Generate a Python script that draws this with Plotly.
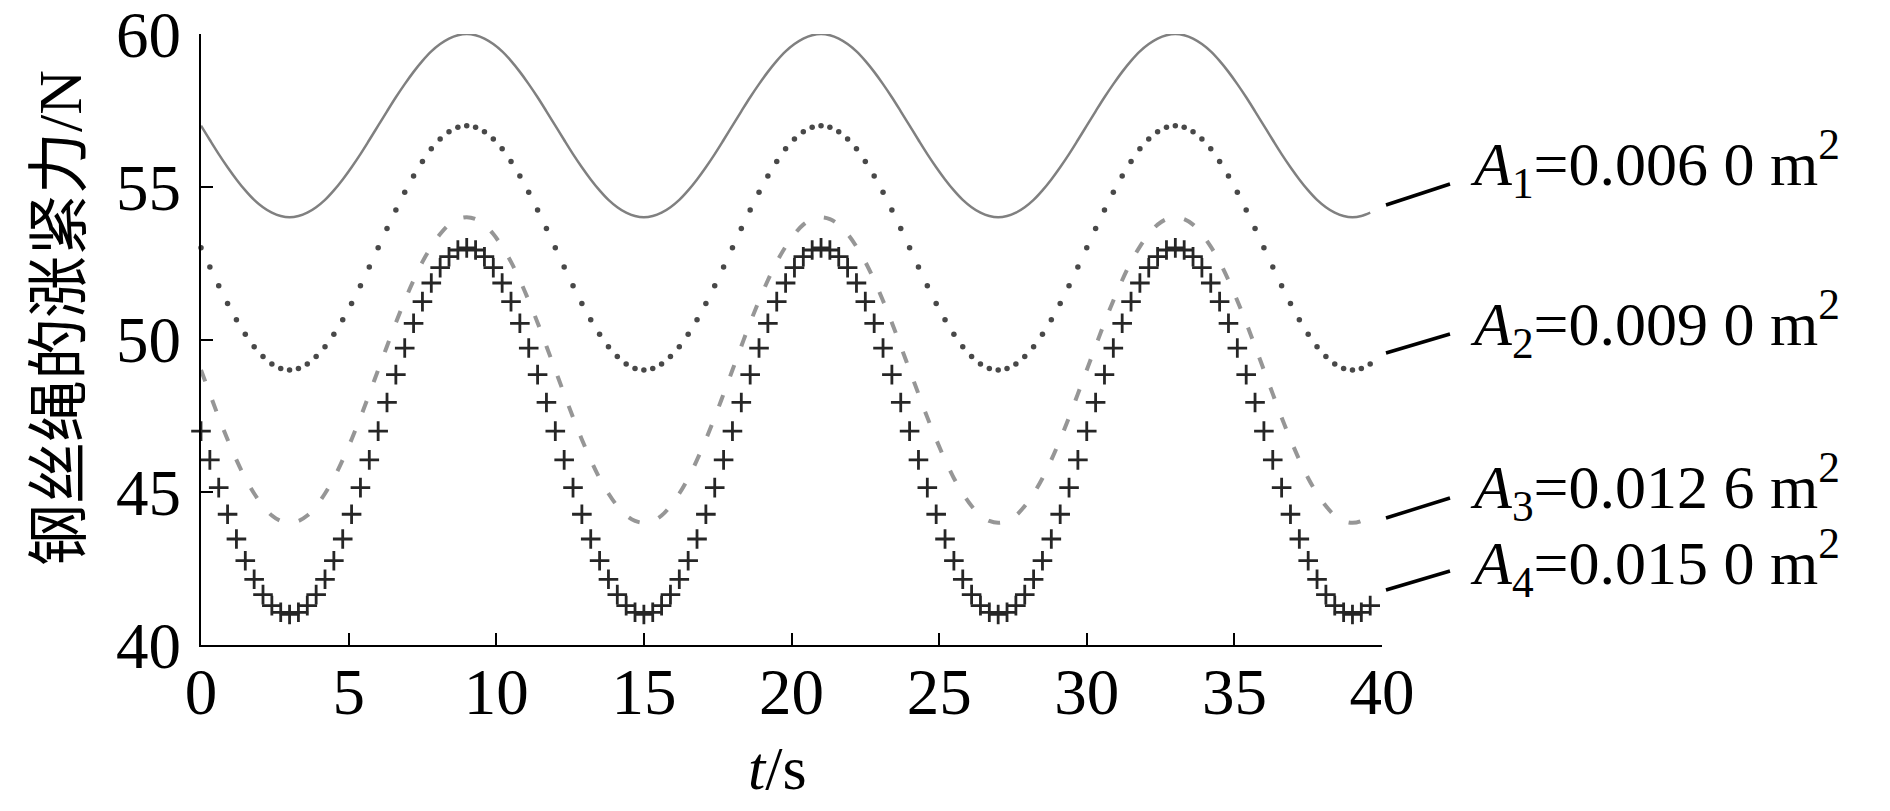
import plotly.graph_objects as go

# sample times (s)
t = [
    0.0, 0.3, 0.6, 0.9, 1.2, 1.5, 1.8, 2.1, 2.4, 2.7, 3.0, 3.3, 3.6, 3.9, 4.2, 4.5, 4.8, 5.1, 5.4, 5.7,
    6.0, 6.3, 6.6, 6.9, 7.2, 7.5, 7.8, 8.1, 8.4, 8.7, 9.0, 9.3, 9.6, 9.9, 10.2, 10.5, 10.8, 11.1, 11.4, 11.7,
    12.0, 12.3, 12.6, 12.9, 13.2, 13.5, 13.8, 14.1, 14.4, 14.7, 15.0, 15.3, 15.6, 15.9, 16.2, 16.5, 16.8, 17.1, 17.4, 17.7,
    18.0, 18.3, 18.6, 18.9, 19.2, 19.5, 19.8, 20.1, 20.4, 20.7, 21.0, 21.3, 21.6, 21.9, 22.2, 22.5, 22.8, 23.1, 23.4, 23.7,
    24.0, 24.3, 24.6, 24.9, 25.2, 25.5, 25.8, 26.1, 26.4, 26.7, 27.0, 27.3, 27.6, 27.9, 28.2, 28.5, 28.8, 29.1, 29.4, 29.7,
    30.0, 30.3, 30.6, 30.9, 31.2, 31.5, 31.8, 32.1, 32.4, 32.7, 33.0, 33.3, 33.6, 33.9, 34.2, 34.5, 34.8, 35.1, 35.4, 35.7,
    36.0, 36.3, 36.6, 36.9, 37.2, 37.5, 37.8, 38.1, 38.4, 38.7, 39.0, 39.3, 39.6,
]

# tension (N), A1 = 0.006 0 m2
f_a1 = [
    57.00, 56.53, 56.07, 55.64, 55.24, 54.88, 54.57, 54.33, 54.15, 54.04, 54.00, 54.04, 54.15, 54.33, 54.57, 54.88, 55.24, 55.64, 56.07, 56.53,
    57.00, 57.47, 57.93, 58.36, 58.76, 59.12, 59.43, 59.67, 59.85, 59.96, 60.00, 59.96, 59.85, 59.67, 59.43, 59.12, 58.76, 58.36, 57.93, 57.47,
    57.00, 56.53, 56.07, 55.64, 55.24, 54.88, 54.57, 54.33, 54.15, 54.04, 54.00, 54.04, 54.15, 54.33, 54.57, 54.88, 55.24, 55.64, 56.07, 56.53,
    57.00, 57.47, 57.93, 58.36, 58.76, 59.12, 59.43, 59.67, 59.85, 59.96, 60.00, 59.96, 59.85, 59.67, 59.43, 59.12, 58.76, 58.36, 57.93, 57.47,
    57.00, 56.53, 56.07, 55.64, 55.24, 54.88, 54.57, 54.33, 54.15, 54.04, 54.00, 54.04, 54.15, 54.33, 54.57, 54.88, 55.24, 55.64, 56.07, 56.53,
    57.00, 57.47, 57.93, 58.36, 58.76, 59.12, 59.43, 59.67, 59.85, 59.96, 60.00, 59.96, 59.85, 59.67, 59.43, 59.12, 58.76, 58.36, 57.93, 57.47,
    57.00, 56.53, 56.07, 55.64, 55.24, 54.88, 54.57, 54.33, 54.15, 54.04, 54.00, 54.04, 54.15,
]

# A2 = 0.009 0 m2
f_a2 = [
    53.00, 52.37, 51.76, 51.18, 50.65, 50.17, 49.76, 49.44, 49.20, 49.05, 49.00, 49.05, 49.20, 49.44, 49.76, 50.17, 50.65, 51.18, 51.76, 52.37,
    53.00, 53.63, 54.24, 54.82, 55.35, 55.83, 56.24, 56.56, 56.80, 56.95, 57.00, 56.95, 56.80, 56.56, 56.24, 55.83, 55.35, 54.82, 54.24, 53.63,
    53.00, 52.37, 51.76, 51.18, 50.65, 50.17, 49.76, 49.44, 49.20, 49.05, 49.00, 49.05, 49.20, 49.44, 49.76, 50.17, 50.65, 51.18, 51.76, 52.37,
    53.00, 53.63, 54.24, 54.82, 55.35, 55.83, 56.24, 56.56, 56.80, 56.95, 57.00, 56.95, 56.80, 56.56, 56.24, 55.83, 55.35, 54.82, 54.24, 53.63,
    53.00, 52.37, 51.76, 51.18, 50.65, 50.17, 49.76, 49.44, 49.20, 49.05, 49.00, 49.05, 49.20, 49.44, 49.76, 50.17, 50.65, 51.18, 51.76, 52.37,
    53.00, 53.63, 54.24, 54.82, 55.35, 55.83, 56.24, 56.56, 56.80, 56.95, 57.00, 56.95, 56.80, 56.56, 56.24, 55.83, 55.35, 54.82, 54.24, 53.63,
    53.00, 52.37, 51.76, 51.18, 50.65, 50.17, 49.76, 49.44, 49.20, 49.05, 49.00, 49.05, 49.20,
]

# A3 = 0.012 6 m2
f_a3 = [
    49.00, 48.22, 47.45, 46.73, 46.06, 45.46, 44.96, 44.55, 44.24, 44.06, 44.00, 44.06, 44.24, 44.55, 44.96, 45.46, 46.06, 46.73, 47.45, 48.22,
    49.00, 49.78, 50.55, 51.27, 51.94, 52.54, 53.04, 53.45, 53.76, 53.94, 54.00, 53.94, 53.76, 53.45, 53.04, 52.54, 51.94, 51.27, 50.55, 49.78,
    49.00, 48.22, 47.45, 46.73, 46.06, 45.46, 44.96, 44.55, 44.24, 44.06, 44.00, 44.06, 44.24, 44.55, 44.96, 45.46, 46.06, 46.73, 47.45, 48.22,
    49.00, 49.78, 50.55, 51.27, 51.94, 52.54, 53.04, 53.45, 53.76, 53.94, 54.00, 53.94, 53.76, 53.45, 53.04, 52.54, 51.94, 51.27, 50.55, 49.78,
    49.00, 48.22, 47.45, 46.73, 46.06, 45.46, 44.96, 44.55, 44.24, 44.06, 44.00, 44.06, 44.24, 44.55, 44.96, 45.46, 46.06, 46.73, 47.45, 48.22,
    49.00, 49.78, 50.55, 51.27, 51.94, 52.54, 53.04, 53.45, 53.76, 53.94, 54.00, 53.94, 53.76, 53.45, 53.04, 52.54, 51.94, 51.27, 50.55, 49.78,
    49.00, 48.22, 47.45, 46.73, 46.06, 45.46, 44.96, 44.55, 44.24, 44.06, 44.00, 44.06, 44.24,
]

# A4 = 0.015 0 m2
f_a4 = [
    47.00, 46.06, 45.15, 44.28, 43.47, 42.76, 42.15, 41.65, 41.29, 41.07, 41.00, 41.07, 41.29, 41.65, 42.15, 42.76, 43.47, 44.28, 45.15, 46.06,
    47.00, 47.94, 48.85, 49.72, 50.53, 51.24, 51.85, 52.35, 52.71, 52.93, 53.00, 52.93, 52.71, 52.35, 51.85, 51.24, 50.53, 49.72, 48.85, 47.94,
    47.00, 46.06, 45.15, 44.28, 43.47, 42.76, 42.15, 41.65, 41.29, 41.07, 41.00, 41.07, 41.29, 41.65, 42.15, 42.76, 43.47, 44.28, 45.15, 46.06,
    47.00, 47.94, 48.85, 49.72, 50.53, 51.24, 51.85, 52.35, 52.71, 52.93, 53.00, 52.93, 52.71, 52.35, 51.85, 51.24, 50.53, 49.72, 48.85, 47.94,
    47.00, 46.06, 45.15, 44.28, 43.47, 42.76, 42.15, 41.65, 41.29, 41.07, 41.00, 41.07, 41.29, 41.65, 42.15, 42.76, 43.47, 44.28, 45.15, 46.06,
    47.00, 47.94, 48.85, 49.72, 50.53, 51.24, 51.85, 52.35, 52.71, 52.93, 53.00, 52.93, 52.71, 52.35, 51.85, 51.24, 50.53, 49.72, 48.85, 47.94,
    47.00, 46.06, 45.15, 44.28, 43.47, 42.76, 42.15, 41.65, 41.29, 41.07, 41.00, 41.07, 41.29,
]

labels = [
    "<i>A</i><sub>1</sub>=0.006 0 m<sup>2</sup>",
    "<i>A</i><sub>2</sub>=0.009 0 m<sup>2</sup>",
    "<i>A</i><sub>3</sub>=0.012 6 m<sup>2</sup>",
    "<i>A</i><sub>4</sub>=0.015 0 m<sup>2</sup>",
]
x_ticks = [0, 5, 10, 15, 20, 25, 30, 35, 40]
y_ticks = [40, 45, 50, 55, 60]

SERIF = "Liberation Serif, Noto Sans CJK SC"
OFF = 8  # page body margin of the html file
W, H = 1890 - OFF, 811 - OFF
L, R, T, B = 201 - OFF, 1382 - OFF, 34 - OFF, 645 - OFF


# page pixel -> paper fraction
def px(x):
    return (x - OFF - L) / (R - L)


def py(y):
    return (B - (y - OFF)) / (B - T)


fig = go.Figure()

fig.add_trace(go.Scatter(x=t, y=f_a1, mode="lines",
                         line=dict(color="#808080", width=2.5, shape="spline"),
                         cliponaxis=False))
fig.add_trace(go.Scatter(x=t, y=f_a2, mode="markers",
                         marker=dict(symbol="circle", size=5.5, color="#484848"),
                         cliponaxis=False))
fig.add_trace(go.Scatter(x=t, y=f_a3, mode="lines",
                         line=dict(color="#969696", width=4, dash="12px,20px", shape="spline"),
                         cliponaxis=False))
fig.add_trace(go.Scatter(x=t, y=f_a4, mode="markers",
                         marker=dict(symbol="cross-thin", size=14, color="#262626",
                                     line=dict(color="#262626", width=2.8)),
                         cliponaxis=False))

# label positions (page pixels): text centre y, leader line
label_y = [164, 323, 486, 562]
leaders = [((1386, 205), (1450, 184)), ((1386, 353), (1450, 334)),
           ((1386, 518), (1450, 498)), ((1386, 590), (1450, 571))]

for txt, ly, (p0, p1) in zip(labels, label_y, leaders):
    fig.add_annotation(text=txt, xref="paper", yref="paper", x=px(1468), y=py(ly),
                       xanchor="left", yanchor="middle", showarrow=False,
                       font=dict(family=SERIF, size=62, color="black"))
    fig.add_shape(type="line", xref="paper", yref="paper",
                  x0=px(p0[0]), y0=py(p0[1]), x1=px(p1[0]), y1=py(p1[1]),
                  line=dict(color="black", width=3.5))

# axis titles
fig.add_annotation(text="钢丝绳的涨紧力/N", xref="paper", yref="paper",
                   x=px(60), y=py(318), textangle=-90, showarrow=False,
                   xanchor="center", yanchor="middle",
                   font=dict(family=SERIF, size=62, color="black"))
fig.add_annotation(text="<i>t</i>/s", xref="paper", yref="paper",
                   x=px(777), y=py(768), showarrow=False,
                   xanchor="center", yanchor="middle",
                   font=dict(family=SERIF, size=62, color="black"))

axis_style = dict(showline=True, linecolor="black", linewidth=2, ticks="inside",
                  ticklen=12, tickwidth=2, tickcolor="black", showgrid=False,
                  zeroline=False, mirror=False, automargin=False,
                  ticklabeloverflow="allow",
                  tickfont=dict(family=SERIF, size=65, color="black"))

fig.update_xaxes(range=[0, 40], tickvals=x_ticks, ticklabelstandoff=-11, **axis_style)
fig.update_yaxes(range=[40, 60], tickvals=y_ticks, ticklabelstandoff=5, **axis_style)

fig.update_layout(
    width=W, height=H,
    margin=dict(l=L, r=W - R, t=T, b=H - B, pad=0, autoexpand=False),
    plot_bgcolor="white", paper_bgcolor="white",
    showlegend=False,
)

fig.write_html("out.html")
